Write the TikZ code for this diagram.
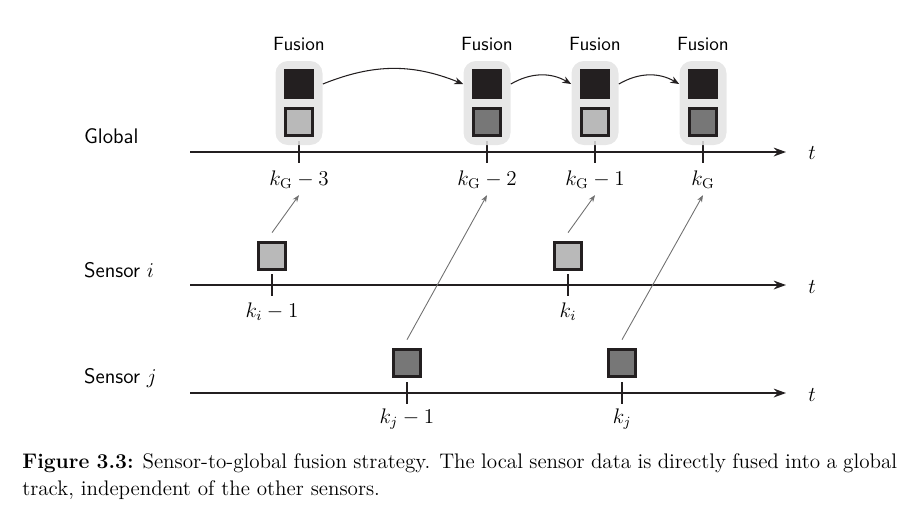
\documentclass[tikz,border=0pt]{standalone}
\usepackage{amsmath,amssymb}
\usepackage{xcolor}
\usepackage{tikz}
\usetikzlibrary{arrows.meta}

\definecolor{fusbg}{HTML}{E3E3E3}
\definecolor{dark}{HTML}{231F20}
\definecolor{lightsq}{HTML}{B9B9B9}
\definecolor{darksq}{HTML}{777777}
\definecolor{sendarrow}{HTML}{707070}

\begin{document}
\begin{tikzpicture}[x=0.02cm,y=-0.02cm]
\tikzstyle{every node}=[font=\large]
\tikzstyle{axis}=[line width=1pt, draw=dark, -{Stealth[length=7pt,width=5pt]}]
\tikzstyle{tick}=[line width=1.1pt, draw=dark]
\tikzstyle{fusbox}=[rounded corners=7pt, fill=fusbg, fill opacity=0.85, minimum width=0.94cm, minimum height=1.68cm, inner sep=0pt]
\tikzstyle{est}=[draw=dark, line width=1.2pt, minimum size=0.54cm, inner sep=0pt]
\tikzstyle{pred}=[est, fill=dark]
\tikzstyle{flow}=[line width=0.6pt, draw=dark, -{Stealth[length=5pt,width=4pt]}]
\tikzstyle{send}=[line width=0.5pt, draw=sendarrow, -{Stealth[length=4pt,width=3pt]}]
\useasboundingbox (0,0) rectangle (918,512);

% row labels
\node[anchor=west, font=\large\sffamily] (lglobal) at (78,136) {Global};
\node[anchor=west, font=\large\sffamily] (lsensi) at (78,270) {Sensor $i$};
\node[anchor=west, font=\large\sffamily] (lsensj) at (78,378) {Sensor $j$};

% time axes
\draw [axis] (190,152) -- (786,152);
\draw [axis] (190,285) -- (786,285);
\draw [axis] (190,393) -- (786,393);
\node (tglobal) at (812,153) {$t$};
\node (tsensi) at (812,287) {$t$};
\node (tsensj) at (812,395) {$t$};

% ticks
\draw [tick] (299,141) -- (299,163);
\draw [tick] (487,141) -- (487,163);
\draw [tick] (595,141) -- (595,163);
\draw [tick] (703,141) -- (703,163);
\draw [tick] (272,274) -- (272,296);
\draw [tick] (568,274) -- (568,296);
\draw [tick] (407,382) -- (407,404);
\draw [tick] (622,382) -- (622,404);

% global fusion steps
\node[fusbox] (fus3) at (299,103) {};
\node[fusbox] (fus2) at (487,103) {};
\node[fusbox] (fus1) at (595,103) {};
\node[fusbox] (fus0) at (703,103) {};
\node[pred] (p3) at (299,84) {};
\node[pred] (p2) at (487,84) {};
\node[pred] (p1) at (595,84) {};
\node[pred] (p0) at (703,84) {};
\node[est, fill=lightsq] (g3) at (299,122) {};
\node[est, fill=darksq] (g2) at (487,122) {};
\node[est, fill=lightsq] (g1) at (595,122) {};
\node[est, fill=darksq] (g0) at (703,122) {};
\node[font=\fontsize{10.9}{13}\selectfont\sffamily] (f3) at (299,44) {Fusion};
\node[font=\fontsize{10.9}{13}\selectfont\sffamily] (f2) at (487,44) {Fusion};
\node[font=\fontsize{10.9}{13}\selectfont\sffamily] (f1) at (595,44) {Fusion};
\node[font=\fontsize{10.9}{13}\selectfont\sffamily] (f0) at (703,44) {Fusion};

% tick labels
\node (kg3) at (299,180) {$k_{\mathrm{G}}-3$};
\node (kg2) at (487,180) {$k_{\mathrm{G}}-2$};
\node (kg1) at (595,180) {$k_{\mathrm{G}}-1$};
\node (kg0) at (703,180) {$k_{\mathrm{G}}$};
\node (ki1) at (272,312) {$k_i-1$};
\node (ki0) at (568,312) {$k_i$};
\node (kj1) at (407,419) {$k_j-1$};
\node (kj0) at (622,419) {$k_j$};

% sensor data
\node[est, fill=lightsq] (si1) at (272,256) {};
\node[est, fill=lightsq] (si0) at (568,256) {};
\node[est, fill=darksq] (sj1) at (407,363) {};
\node[est, fill=darksq] (sj0) at (622,363) {};

% prediction between fusion steps
\draw [flow] (fus3.east |- p3) to[bend left=22] (fus2.west |- p2);
\draw [flow] (fus2.east |- p2) to[bend left=30] (fus1.west |- p1);
\draw [flow] (fus1.east |- p1) to[bend left=30] (fus0.west |- p0);

% sensor to global
\draw [send] ([yshift=5pt]si1.north) -- (kg3.south);
\draw [send] ([yshift=5pt]sj1.north) -- (kg2.south);
\draw [send] ([yshift=5pt]si0.north) -- (kg1.south);
\draw [send] ([yshift=5pt]sj0.north) -- (kg0.south);

% caption
\node[anchor=north west, text width=17.5cm, align=justify, inner sep=0pt, font=\fontsize{12}{15.3}\selectfont] (caption) at (22,453)
{\textbf{Figure 3.3:} Sensor-to-global fusion strategy. The local sensor data is directly fused into a global\linebreak track, independent of the other sensors.};
\end{tikzpicture}
\end{document}
